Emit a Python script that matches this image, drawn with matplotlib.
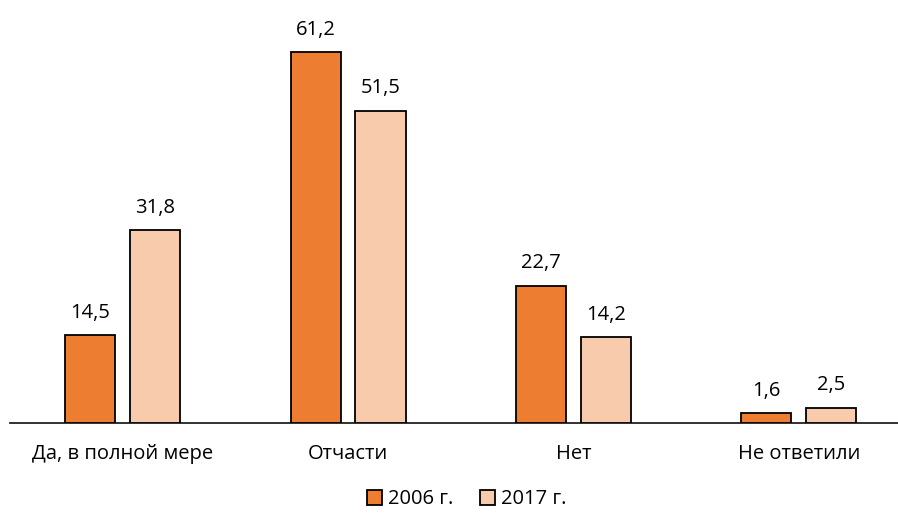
import numpy as np
import matplotlib
matplotlib.use("Agg")
import matplotlib.pyplot as plt

plt.rcParams['font.family'] = ['Open Sans', 'DejaVu Sans']

categories = ["Да, в полной мере", "Отчасти", "Нет", "Не ответили"]
series_names = ["2006 г.", "2017 г."]
values_2006 = [14.5, 61.2, 22.7, 1.6]
values_2017 = [31.8, 51.5, 14.2, 2.5]

colors = ["#ED7D31", "#F8CBAD"]

fig = plt.figure(figsize=(8.98, 5.16), dpi=100)
ax = fig.add_axes([0.0111, 0.180, 0.9889, 0.800])

x = np.arange(len(categories))
width = 0.222
offset = 0.144

for vals, dx, col, name in [(values_2006, -offset, colors[0], series_names[0]),
                            (values_2017, offset, colors[1], series_names[1])]:
    bars = ax.bar(x + dx, vals, width, color=col, edgecolor="black",
                  linewidth=1.3, label=name, zorder=3)
    for b, v in zip(bars, vals):
        ax.annotate(f"{v:.1f}".replace(".", ","),
                    (b.get_x() + b.get_width() / 2, v),
                    xytext=(0, 9), textcoords="offset points",
                    ha="center", va="bottom", fontsize=14.5)

ax.set_xlim(-0.5, 3.44)
ax.set_ylim(0, 68.1)
ax.set_xticks(x)
ax.set_xticklabels(categories, fontsize=14.5)
ax.tick_params(axis="x", length=0, pad=15)
ax.set_yticks([])
for s in ["top", "right", "left"]:
    ax.spines[s].set_visible(False)
ax.spines["bottom"].set_linewidth(1.3)
ax.spines["bottom"].set_color("#222222")

fig.legend(loc="lower center", bbox_to_anchor=(0.52, -0.022), ncol=2,
           frameon=False, fontsize=14.5, handlelength=0.75, handleheight=0.75,
           handletextpad=0.3, columnspacing=1.3)

fig.savefig("out.png", dpi=100)
